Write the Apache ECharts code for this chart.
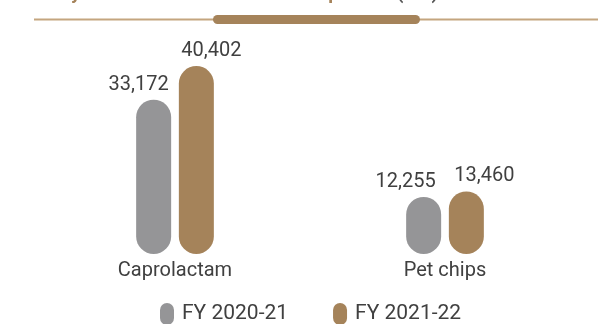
<!DOCTYPE html>
<html>
<head>
<meta charset="utf-8">
<script src="https://cdn.jsdelivr.net/npm/echarts@6/dist/echarts.min.js"></script>
<style>
  html, body { margin: 0; padding: 0; background: #fff; }
  #chart { width: 598px; height: 324px; }
</style>
</head>
<body>
<div id="chart"></div>
<script>
// Production volumes by product, two financial years
const categories = ['Caprolactam', 'Pet chips'];
const seriesNames = ['FY 2020-21', 'FY 2021-22'];
const fy2021 = [33172, 12255];
const fy2122 = [40402, 13460];

const GREY = '#959597';
const BRONZE = '#a5835a';
const TEXT = '#404040';
const FONT = 'Roboto, "Noto Sans", sans-serif';

const pill = 'path://M7,0 A7,7 0 0 1 14,7 L14,15 A7,7 0 0 1 0,15 L0,7 A7,7 0 0 1 7,0 Z';

const chart = echarts.init(document.getElementById('chart'), null, { renderer: 'canvas' });

// value labels sit beside the bar centre, pushed outward from the pair
function barSeries(name, data, color, shifts) {
  return {
    name: name,
    type: 'bar',
    data: data.map((v, i) => ({ value: v, label: { offset: [shifts[i], 0] } })),
    barWidth: 35,
    barGap: '22%',
    itemStyle: { color: color, borderRadius: 17.5 },
    label: {
      show: true,
      position: 'top',
      distance: 5,
      color: TEXT,
      fontFamily: FONT,
      fontSize: 20,
      formatter: p => p.value.toLocaleString('en-US')
    }
  };
}

chart.setOption({
  animation: false,
  title: {
    left: 44,
    top: -20,
    text: '{a|Key Products Sales Volume Comparison }{b|(MT)}',
    textStyle: {
      rich: {
        a: { color: BRONZE, fontWeight: 'bold', fontSize: 19, fontFamily: FONT },
        b: { color: '#555', fontSize: 19, fontFamily: FONT }
      }
    }
  },
  graphic: [
    { type: 'line', shape: { x1: 34, y1: 19.5, x2: 598, y2: 19.5 },
      style: { stroke: '#c4a57f', lineWidth: 2 }, silent: true },
    { type: 'rect', shape: { x: 213, y: 15, width: 207, height: 9, r: 4.5 },
      style: { fill: BRONZE }, silent: true }
  ],
  legend: {
    left: 155,
    top: 298,
    itemWidth: 14,
    itemHeight: 22,
    itemGap: 45,
    icon: pill,
    textStyle: { color: TEXT, fontSize: 21, fontFamily: FONT, padding: [0, 0, 0, 3] },
    data: seriesNames
  },
  grid: { left: 40, right: 18, top: 40, bottom: 70 },
  xAxis: {
    type: 'category',
    data: categories,
    axisLine: { show: false },
    axisTick: { show: false },
    axisLabel: { color: TEXT, fontSize: 20, fontFamily: FONT, margin: 7 }
  },
  yAxis: {
    type: 'value',
    min: 0,
    max: 46000,
    show: false,
    splitLine: { show: false }
  },
  series: [
    barSeries(seriesNames[0], fy2021, GREY, [-15, -18]),
    barSeries(seriesNames[1], fy2122, BRONZE, [15, 18])
  ]
});
</script>
</body>
</html>
